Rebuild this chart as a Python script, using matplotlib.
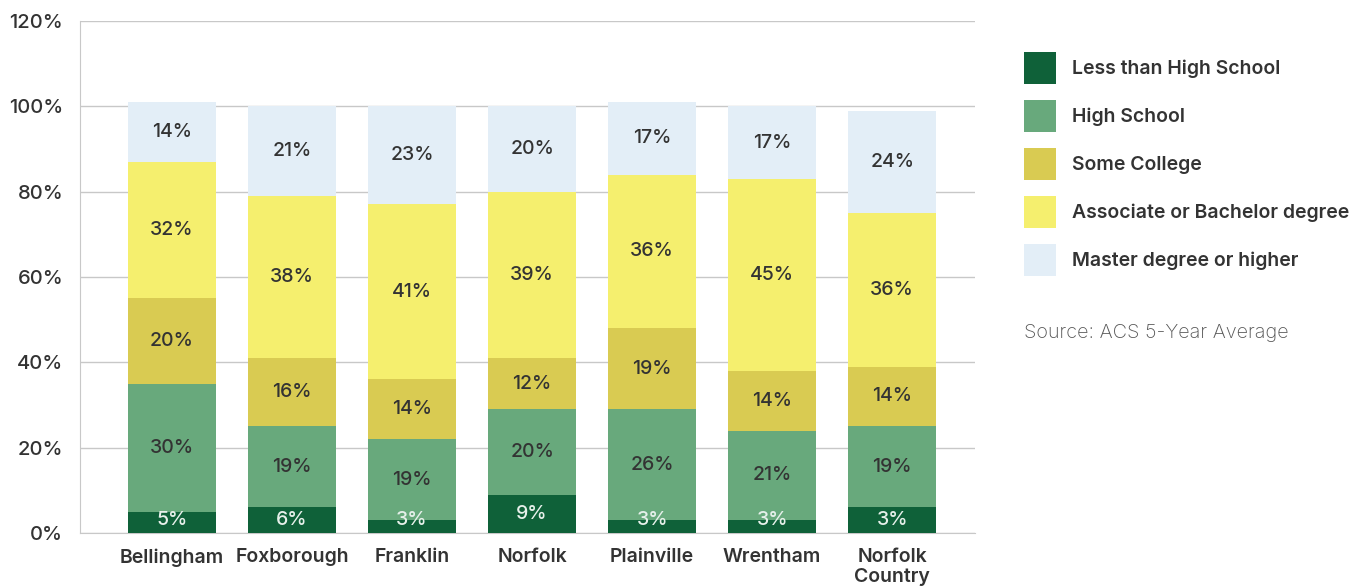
import matplotlib
matplotlib.use("Agg")
import matplotlib.pyplot as plt
import numpy as np

towns = ["Bellingham", "Foxborough", "Franklin", "Norfolk", "Plainville", "Wrentham", "Norfolk\nCountry"]
series_names = ["Less than High School", "High School", "Some College",
                "Associate or Bachelor degree", "Master degree or higher"]
less_than_hs = [5, 6, 3, 9, 3, 3, 6]
less_than_hs_labels = ["5%", "6%", "3%", "9%", "3%", "3%", "3%"]
high_school = [30, 19, 19, 20, 26, 21, 19]
some_college = [20, 16, 14, 12, 19, 14, 14]
assoc_bach = [32, 38, 41, 39, 36, 45, 36]
master_plus = [14, 21, 23, 20, 17, 17, 24]
y_ticks = [0, 20, 40, 60, 80, 100, 120]
source_text = "Source: ACS 5-Year Average"

colors = ["#0f6139", "#68a97c", "#d9cb52", "#f5ef6e", "#e3eef7"]
text_colors = ["#e6f0ea", "#333333", "#333333", "#333333", "#333333"]

plt.rcParams["font.family"] = ["Inter", "DejaVu Sans"]

fig = plt.figure(figsize=(13.61, 5.88), dpi=100)
ax = fig.add_axes([80/1361, 55/588, 895/1361, 512/588])

x = np.arange(len(towns))
data = [less_than_hs, high_school, some_college, assoc_bach, master_plus]
bottom = np.zeros(len(towns))
handles = []
for i, (vals, name) in enumerate(zip(data, series_names)):
    vals = np.array(vals, dtype=float)
    b = ax.bar(x, vals, 0.733, bottom=bottom, color=colors[i], label=name, zorder=3)
    handles.append(b)
    labels = less_than_hs_labels if i == 0 else [f"{int(v)}%" for v in vals]
    for xi, bi, vi, lab in zip(x, bottom, vals, labels):
        yc = max(bi + vi / 2, 3.0)
        ax.text(xi, yc, lab, ha="center", va="center", fontsize=14,
                fontweight="medium", color=text_colors[i], zorder=4)
    bottom = bottom + vals

ax.set_xlim(-0.767, 6.69)
ax.set_ylim(0, 120)
ax.set_yticks(y_ticks)
ax.set_yticklabels([f"{t}%" for t in y_ticks], fontsize=14.5, color="#333333",
                   fontweight="medium")
ax.set_xticks(x)
ax.set_xticklabels(towns, fontsize=14, fontweight="semibold", color="#333333",
                   linespacing=1.1)
ax.tick_params(axis="y", length=0, pad=12)
ax.tick_params(axis="x", length=0, pad=11)
ax.yaxis.grid(True, color="#c8c8c8", linewidth=1, zorder=0)
ax.set_axisbelow(True)
for s in ["top", "right"]:
    ax.spines[s].set_visible(False)
ax.spines["left"].set_color("#c8c8c8")
ax.spines["bottom"].set_color("#c8c8c8")

leg = fig.legend(handles=handles, labels=series_names, loc="upper left",
                 bbox_to_anchor=(1024/1361, 1 - 52/588), frameon=False,
                 fontsize=14, handlelength=1.65, handleheight=2.15,
                 handletextpad=0.82, labelspacing=0.83, borderpad=0,
                 borderaxespad=0)
for t in leg.get_texts():
    t.set_color("#333333")
    t.set_fontweight("semibold")

fig.text(1024/1361, 1 - 333/588, source_text, fontsize=14.3, color="#555555",
         fontweight="light", ha="left", va="center")

fig.savefig("out.png", dpi=100)
